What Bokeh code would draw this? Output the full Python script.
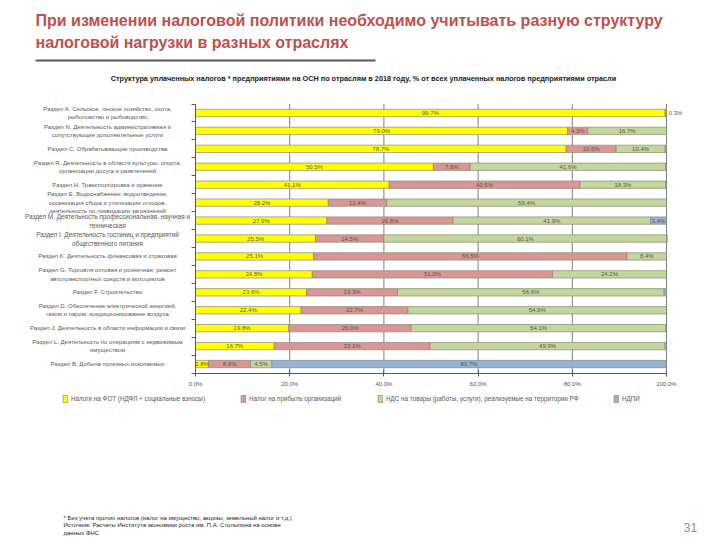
from bokeh.plotting import figure
from bokeh.models import (ColumnDataSource, Range1d, FixedTicker, Label, BoxAnnotation,
                          Legend, LegendItem, CustomJSTickFormatter, LinearAxis)
from bokeh.core.properties import value
from bokeh.embed import file_html
from bokeh.resources import INLINE

# ---------------- data ----------------
categories = [
    ["Раздел A. Сельское, лесное хозяйство, охота,", "рыболовство и рыбоводство"],
    ["Раздел N. Деятельность административная и", "сопутствующие дополнительные услуги"],
    ["Раздел C. Обрабатывающие производства"],
    ["Раздел R. Деятельность в области культуры, спорта,", "организации досуга и развлечений"],
    ["Раздел H. Транспортировка и хранение"],
    ["Раздел E. Водоснабжение; водоотведение,", "организация сбора и утилизации отходов,",
     "деятельность по ликвидации загрязнений"],
    ["Раздел M. Деятельность профессиональная, научная и", "техническая"],
    ["Раздел I. Деятельность гостиниц и предприятий", "общественного питания"],
    ["Раздел K. Деятельность финансовая и страховая"],
    ["Раздел G. Торговля оптовая и розничная; ремонт", "автотранспортных средств и мотоциклов"],
    ["Раздел F. Строительство"],
    ["Раздел D. Обеспечение электрической энергией,", "газом и паром; кондиционирование воздуха"],
    ["Раздел J. Деятельность в области информации и связи"],
    ["Раздел L. Деятельность по операциям с недвижимым", "имуществом"],
    ["Раздел B. Добыча полезных ископаемых"],
]
fot    = [99.7, 79.0, 78.7, 50.5, 41.1, 28.2, 27.9, 25.5, 25.1, 24.8, 23.6, 22.4, 19.8, 16.7, 2.8]
profit = [0.3, 4.3, 10.6, 7.8, 40.5, 12.4, 26.8, 14.5, 66.5, 51.0, 19.3, 22.7, 26.0, 33.1, 8.9]
vat    = [0.0, 16.7, 10.4, 41.6, 18.3, 59.4, 41.9, 60.1, 8.4, 24.2, 56.6, 54.9, 54.1, 49.9, 4.5]
ndpi   = [0.0, 0.0, 0.3, 0.0, 0.0, 0.0, 3.4, 0.0, 0.0, 0.0, 0.5, 0.0, 0.0, 0.3, 83.7]
series_names = ["Налоги на ФОТ (НДФЛ + социальные взносы)", "Налог на прибыль организаций",
                "НДС на товары (работы, услуги), реализуемые на территории РФ", "НДПИ"]
x_ticks = [0, 20, 40, 60, 80, 100]

title_lines = ["При изменении налоговой политики необходимо учитывать разную структуру",
               "налоговой нагрузки в разных отраслях"]
subtitle = ("Структура уплаченных налогов * предприятиями на ОСН по отраслям в 2018 году, "
            "% от всех уплаченных налогов предприятиями отрасли")
footnotes = ["* Без учета прочих налогов (налог на имущество, акцизы, земельный налог и т.д.)",
             "Источник: Расчеты Института экономики роста им. П.А. Столыпина на основе",
             "данных ФНС"]
page_number = "31"

colors = ["#FFFF00", "#D99694", "#C3D69B", "#95B3D7"]
FONT = "Liberation Sans"

n = len(categories)
ypos = [n - 0.5 - i for i in range(n)]

# Canvas == frame; plot area in page px: left 195, right 666, top 103.5, bottom 372.5
W, H = 716, 536
PL, PR, PT, PB = 195.0, 666.0, 103.5, 372.5
kx = (PR - PL) / 100.0
ky = (PB - PT) / n
x_range = Range1d(-PL / kx, (W - PL) / kx)
y_range = Range1d(-(H - PB) / ky, n + PT / ky)

p = figure(width=W, height=H, output_backend="svg", toolbar_location=None,
           x_range=x_range, y_range=y_range, x_axis_location=None, y_axis_location=None,
           min_border=0)
p.min_border_left = p.min_border_right = p.min_border_top = p.min_border_bottom = 0
p.outline_line_color = None
p.background_fill_color = "white"
p.border_fill_color = "white"
p.grid.visible = False


def sy(py):
    return H - py


def py_of(i):
    return PT + (i + 0.5) * ky


# vertical grid lines
p.segment(x0=x_ticks, y0=[0] * len(x_ticks), x1=x_ticks, y1=[n] * len(x_ticks),
          line_color="#808080", line_width=1)

# axes placed at fixed data locations
xaxis = LinearAxis(fixed_location=0, bounds=(0, 100), ticker=FixedTicker(ticks=x_ticks),
                   formatter=CustomJSTickFormatter(code="return tick.toFixed(1) + '%'"))
xaxis.major_label_text_font_size = "6px"
xaxis.major_label_text_font = FONT
xaxis.major_label_text_color = "#595959"
xaxis.axis_line_color = "#595959"
xaxis.major_tick_line_color = "#595959"
xaxis.major_tick_in = 3
xaxis.major_tick_out = 3
xaxis.minor_tick_line_color = None
xaxis.major_label_standoff = 5
p.add_layout(xaxis, "below")

yaxis = LinearAxis(fixed_location=0, bounds=(0, n), ticker=FixedTicker(ticks=list(range(n + 1))))
yaxis.major_label_text_font_size = "0px"
yaxis.major_label_text_color = None
yaxis.axis_line_color = "#595959"
yaxis.major_tick_line_color = "#595959"
yaxis.major_tick_in = 0
yaxis.major_tick_out = 4
yaxis.minor_tick_line_color = None
p.add_layout(yaxis, "left")

src = ColumnDataSource(dict(y=ypos, fot=fot, profit=profit, vat=vat, ndpi=ndpi))
stackers = ["fot", "profit", "vat", "ndpi"]
rs = p.hbar_stack(stackers, y="y", height=0.41, source=src,
                  fill_color=colors, line_color="#8a8a7a", line_width=0.7)

# segment labels
lx, ly, lt = [], [], []
for i in range(n):
    left = 0.0
    for arr in (fot, profit, vat, ndpi):
        v = arr[i]
        if v >= 1:
            lx.append(left + v / 2)
            ly.append(ypos[i])
            lt.append(f"{v:.1f}%")
        left += v
p.text(x="x", y="y", text="t", source=ColumnDataSource(dict(x=lx, y=ly, t=lt)),
       text_align="center", text_baseline="middle", text_font_size="6px",
       text_font=value(FONT), text_color="#5a5a3a")

# small segment label outside the first bar
p.text(x=[fot[0] + profit[0]], y=[ypos[0]], text=[f"{profit[0]:.1f}%"], x_offset=2,
       text_align="left", text_baseline="middle", text_font_size="6px",
       text_font=value(FONT), text_color="#595959")

# category labels
for i, lines in enumerate(categories):
    k = len(lines)
    big = i in (6, 7)
    step = 9.0 if big else 8.5
    for j, line in enumerate(lines):
        yy = py_of(i) + (j - (k - 1) / 2) * step
        p.add_layout(Label(x=107, x_units="screen", y=sy(yy), y_units="screen", text=line,
                           text_align="center", text_baseline="middle",
                           text_font_size="6.4px" if big else "6px", text_font=FONT,
                           text_color="#595959"))

# title
for j, t in enumerate(title_lines):
    p.add_layout(Label(x=35, x_units="screen", y=sy(20 + 22 * j), y_units="screen",
                       text=t, text_align="left", text_baseline="middle",
                       text_font_size="16px", text_font=FONT, text_font_style="bold",
                       text_color="#C0504D"))
p.add_layout(BoxAnnotation(left=35, right=375, bottom=sy(61), top=sy(59),
                           left_units="screen", right_units="screen",
                           bottom_units="screen", top_units="screen",
                           fill_color="#595959", fill_alpha=1, line_color=None))
p.add_layout(Label(x=363, x_units="screen", y=sy(78), y_units="screen", text=subtitle,
                   text_align="center", text_baseline="middle", text_font_size="7.3px",
                   text_font=FONT, text_font_style="bold", text_color="#1a1a1a"))

# legend
legend_x = [62, 240, 377, 613]
for r, name, lxp in zip(rs, series_names, legend_x):
    lg = Legend(items=[LegendItem(label=name, renderers=[r])], location=(lxp, sy(403)),
                orientation="horizontal", glyph_width=6, glyph_height=9, label_height=9,
                label_width=10, label_standoff=3, padding=0, margin=0, spacing=0,
                border_line_color=None, background_fill_alpha=0,
                label_text_font_size="6.3px", label_text_font=FONT,
                label_text_color="#595959")
    p.add_layout(lg)

# footnotes
for j, t in enumerate(footnotes):
    p.add_layout(Label(x=63, x_units="screen", y=sy(517 + 7.5 * j), y_units="screen",
                       text=t, text_align="left", text_baseline="middle",
                       text_font_size="6px", text_font=FONT, text_color="#262626"))
p.add_layout(Label(x=690, x_units="screen", y=sy(527), y_units="screen", text=page_number,
                   text_align="center", text_baseline="middle", text_font_size="12px",
                   text_font=FONT, text_color="#8c8c8c"))

open("out.html", "w").write(file_html(p, INLINE))
